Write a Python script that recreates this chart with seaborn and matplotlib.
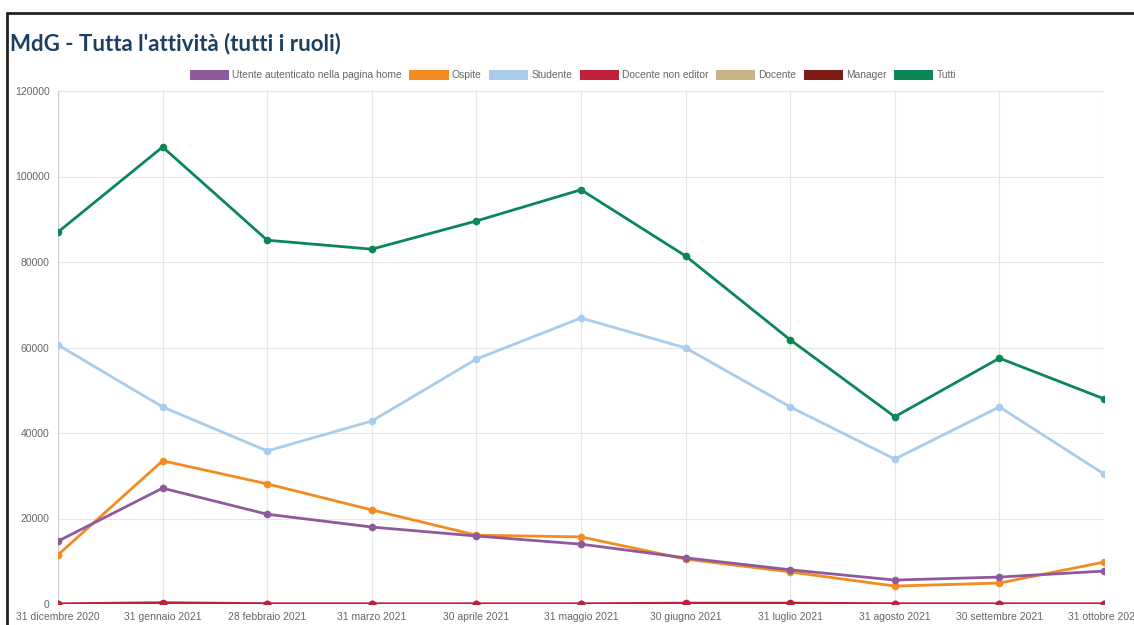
import pandas as pd
import matplotlib.pyplot as plt
import seaborn as sns
from matplotlib.patches import Patch
from matplotlib.lines import Line2D

sns.set_theme(style="whitegrid")
plt.rcParams["font.family"] = ["Liberation Sans", "DejaVu Sans"]

months = ["31 dicembre 2020", "31 gennaio 2021", "28 febbraio 2021", "31 marzo 2021",
          "30 aprile 2021", "31 maggio 2021", "30 giugno 2021", "31 luglio 2021",
          "31 agosto 2021", "30 settembre 2021", "31 ottobre 2021"]

series_names = ["Utente autenticato nella pagina home", "Ospite", "Studente",
                "Docente non editor", "Docente", "Manager", "Tutti"]
colors = ["#8E5A9B", "#F38B20", "#A8CCEB", "#C11F3A", "#C6B584", "#7F1B17", "#0B8756"]

utente = [14700, 27100, 21000, 18000, 15900, 14000, 10800, 8000, 5600, 6300, 7700]
ospite = [11500, 33500, 28100, 22000, 16100, 15700, 10500, 7500, 4200, 4900, 9800]
studente = [60600, 46100, 35800, 42800, 57300, 66900, 59900, 46100, 33900, 46100, 30400]
docente_ne = [50, 300, 80, 60, 60, 60, 200, 200, 80, 60, 60]
docente = [0, 0, 0, 0, 0, 0, 0, 0, 0, 0, 0]
manager = [0, 0, 0, 0, 0, 0, 0, 0, 0, 0, 0]
tutti = [87000, 106900, 85100, 83000, 89600, 96900, 81400, 61800, 43800, 57500, 48000]

values = [utente, ospite, studente, docente_ne, docente, manager, tutti]

rows = []
for name, vals in zip(series_names, values):
    for i, v in enumerate(vals):
        rows.append({"serie": name, "idx": i, "val": v})
df = pd.DataFrame(rows)

fig = plt.figure(figsize=(11.34, 6.25), dpi=100)
ax = fig.add_axes([58 / 1134, 1 - 604 / 625, (1104 - 58) / 1134, (604 - 91) / 625])

# first series drawn on top (chart.js order)
for k in reversed(range(len(series_names))):
    name = series_names[k]
    sub = df[df["serie"] == name]
    sns.lineplot(data=sub, x="idx", y="val", ax=ax, color=colors[k], linewidth=2.0,
                 marker="o", markersize=5.5, markeredgewidth=0, legend=False,
                 zorder=10 - k)

ax.set_xlim(0, len(months) - 1)
ax.set_ylim(0, 120000)
ax.set_yticks(range(0, 120001, 20000))
ax.set_yticklabels([str(v) for v in range(0, 120001, 20000)])
ax.set_xticks(range(len(months)))
ax.set_xticklabels(months)
ax.set_xlabel("")
ax.set_ylabel("")
ax.tick_params(axis="both", labelsize=7.5, colors="#666666", width=0.8)
ax.tick_params(axis="x", length=0, pad=6)
ax.tick_params(axis="y", color="#d8d8d8", length=5, pad=1)
ax.grid(True, color="#e6e6e6", linewidth=0.8)
for s in ax.spines.values():
    s.set_visible(False)
ax.axvline(0, color="#d0d0d0", linewidth=0.9, zorder=1)
ax.axhline(0, color="#d0d0d0", linewidth=0.9, zorder=1)

handles = [Patch(facecolor=c, edgecolor="none") for c in colors]
fig.legend(handles, series_names, loc="center", bbox_to_anchor=(573 / 1134, 1 - 75 / 625),
           ncol=7, frameon=False, fontsize=7.4, handlelength=3.8, handleheight=1.1,
           handletextpad=0.3, columnspacing=0.75, labelcolor="#666666")

fig.text(10 / 1134, 1 - 44 / 625, "MdG - Tutta l'attività (tutti i ruoli)",
         fontsize=16, fontweight="bold", color="#1C3F62", va="center", ha="left",
         family=["Lato", "DejaVu Sans"])

# outer frame
fig.add_artist(Line2D([7 / 1134, 1], [1 - 13 / 625, 1 - 13 / 625], color="#222222",
                      linewidth=2, transform=fig.transFigure))
fig.add_artist(Line2D([7 / 1134, 7 / 1134], [0, 1 - 13 / 625], color="#222222",
                      linewidth=2, transform=fig.transFigure))

plt.savefig("out.png", dpi=100)
